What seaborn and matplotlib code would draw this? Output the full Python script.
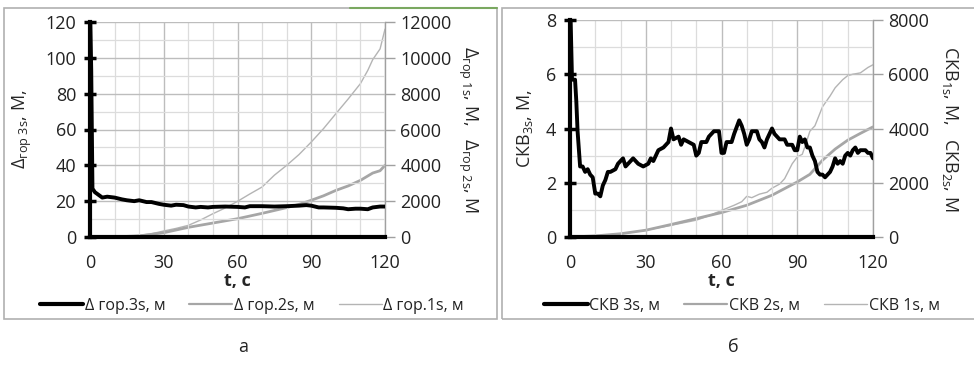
import matplotlib
matplotlib.use("Agg")
import matplotlib.pyplot as plt
import seaborn as sns
import pandas as pd
from matplotlib.ticker import MultipleLocator
from matplotlib.patches import Rectangle
from matplotlib.lines import Line2D

# ---------------- data ----------------
# Panel a: horizontal error
t_a3 = [0, 0.5, 1, 2, 3, 5, 7, 10, 13, 15, 18, 20, 23, 25, 28, 30, 33, 35, 38, 40, 43, 45, 48,
        50, 55, 60, 63, 65, 70, 75, 80, 85, 88, 90, 93, 95, 100, 103, 105, 108, 110, 113, 115, 118, 120]
v_a3 = [130, 93, 27, 25, 24, 22, 22.5, 22, 21, 20.5, 20, 20.5, 19.5, 19.5, 18.5, 18, 17.5, 18, 17.8, 17,
        16.5, 16.8, 16.5, 16.8, 17, 16.8, 16.5, 17.2, 17.2, 17, 17.2, 17.5, 17.8, 17.5, 16.5, 16.5, 16.3,
        16.0, 15.5, 15.8, 15.8, 15.5, 16.5, 17, 17]
t_a1 = [0, 10, 20, 25, 30, 35, 40, 45, 50, 55, 60, 65, 70, 75, 80, 85, 90, 95, 100, 105, 110, 113, 115, 118, 120]
v_a1 = [0, 20, 90, 180, 335, 480, 650, 950, 1300, 1620, 1990, 2400, 2790, 3450, 4000, 4600, 5300, 6050,
        6880, 7700, 8560, 9300, 9900, 10500, 11600]
t_a2 = [0, 10, 20, 30, 40, 50, 60, 70, 80, 85, 90, 95, 100, 105, 110, 115, 118, 120]
v_a2 = [0, 10, 60, 240, 540, 780, 1020, 1320, 1640, 1820, 2050, 2300, 2600, 2850, 3160, 3570, 3700, 4000]

# Panel b: RMS (СКВ)
t_b3 = [0, 0.8, 2, 2.5, 3, 4, 5, 6, 7, 8, 9, 10, 11, 12, 13, 14, 15, 16, 18, 19, 21, 22, 23, 25, 27, 29,
        31, 32, 33, 35, 37, 39, 40, 41, 43, 44, 45, 47, 49, 50, 51, 52, 54, 55, 57, 59, 60, 61, 62, 64,
        65, 67, 68, 69, 70, 71, 72, 74, 75, 76, 77, 78, 80, 81, 83, 85, 86, 88, 89, 90, 91, 92, 93, 94,
        95, 96, 97, 98, 99, 100, 101, 102, 103, 104, 105, 106, 107, 108, 109, 110, 111, 112, 113, 114,
        115, 116, 117, 118, 119, 120]
v_b3 = [9, 5.8, 5.8, 5.0, 3.9, 2.6, 2.6, 2.4, 2.5, 2.3, 2.2, 1.6, 1.6, 1.5, 1.9, 2.1, 2.4, 2.4, 2.5, 2.7,
        2.9, 2.6, 2.7, 2.9, 2.7, 2.6, 2.7, 2.9, 2.8, 3.2, 3.3, 3.5, 4.0, 3.6, 3.7, 3.4, 3.6, 3.5, 3.4,
        3.0, 3.1, 3.5, 3.5, 3.7, 3.9, 3.9, 3.1, 3.1, 3.5, 3.5, 3.8, 4.3, 4.1, 3.8, 3.4, 3.6, 3.9, 3.9,
        3.6, 3.5, 3.3, 3.6, 4.0, 3.8, 3.6, 3.6, 3.4, 3.4, 3.2, 3.2, 3.7, 3.5, 3.6, 3.3, 3.3, 3.0, 2.8,
        2.4, 2.3, 2.3, 2.2, 2.3, 2.4, 2.6, 2.9, 2.7, 2.8, 2.7, 3.0, 3.1, 3.0, 3.2, 3.3, 3.1, 3.2, 3.2,
        3.2, 3.1, 3.1, 2.9]
t_b1 = [0, 10, 20, 30, 40, 50, 55, 60, 65, 68, 70, 72, 75, 78, 80, 83, 85, 88, 90, 92, 93, 95, 97, 100,
        103, 105, 108, 110, 112, 115, 118, 120]
v_b1 = [0, 30, 120, 250, 430, 620, 780, 980, 1170, 1300, 1500, 1450, 1580, 1650, 1800, 1950, 2150, 2700,
        2950, 3050, 3320, 3900, 4100, 4800, 5200, 5500, 5800, 5950, 6000, 6050, 6250, 6350]
t_b2 = [0, 10, 20, 30, 40, 50, 60, 70, 80, 90, 95, 100, 105, 110, 115, 120]
v_b2 = [0, 40, 120, 250, 460, 680, 900, 1170, 1540, 2030, 2310, 2830, 3240, 3570, 3820, 4060]

legend_a = ["Δ гор.3s, м", "Δ гор.2s, м", "Δ гор.1s, м"]
legend_b = ["СКВ 3s, м", "СКВ 2s, м", "СКВ 1s, м"]
xticks = [0, 30, 60, 90, 120]

# ---------------- style ----------------
sns.set_style("white")
FONT = "Open Sans"
plt.rcParams["font.family"] = [FONT, "DejaVu Sans"]
plt.rcParams["mathtext.fontset"] = "custom"
plt.rcParams["mathtext.rm"] = FONT
plt.rcParams["mathtext.it"] = FONT + ":italic"
plt.rcParams["mathtext.bf"] = FONT + ":bold"
plt.rcParams["text.color"] = "#222222"

W, H = 974, 366
fig = plt.figure(figsize=(W / 100, H / 100), dpi=100)

def fx(px):
    return px / W

def fy(py):
    return 1 - py / H

C3, C2, C1 = "black", "#a6a6a6", "#b4b4b4"
GRID_MIN, GRID_MAJ = "#dcdcdc", "#bdbdbd"
TS = 13


def make_panel(l, r, t, b, ymax, ymaj, ymin, y2max, y2maj):
    ax = fig.add_axes([fx(l), fy(b), fx(r - l), fy(t) - fy(b)])
    ax.set_xlim(0, 120)
    ax.set_ylim(0, ymax)
    ax.xaxis.set_major_locator(MultipleLocator(30))
    ax.xaxis.set_minor_locator(MultipleLocator(10))
    ax.yaxis.set_major_locator(MultipleLocator(ymaj))
    ax.yaxis.set_minor_locator(MultipleLocator(ymin))
    ax.grid(which="minor", color=GRID_MIN, lw=0.9)
    ax.grid(which="major", color=GRID_MAJ, lw=1.0)
    ax.set_axisbelow(True)
    for s in ["top", "right"]:
        ax.spines[s].set_visible(False)
    for s in ["left", "bottom"]:
        ax.spines[s].set_color("black")
        ax.spines[s].set_linewidth(3)
        ax.spines[s].set_zorder(5)
    ax.tick_params(which="major", direction="inout", length=8, width=2.5, color="black",
                   labelsize=TS, labelcolor="#222222", pad=6)
    ax.tick_params(axis="x", which="major", pad=8)
    ax.tick_params(which="minor", length=0)
    ax2 = ax.twinx()
    ax2.set_ylim(0, y2max)
    ax2.yaxis.set_major_locator(MultipleLocator(y2maj))
    for s in ["top", "left", "bottom"]:
        ax2.spines[s].set_visible(False)
    ax2.spines["right"].set_color("#a0a0a0")
    ax2.spines["right"].set_linewidth(1.0)
    ax2.tick_params(axis="y", direction="out", length=7, width=1, color="#a0a0a0",
                    labelsize=TS, labelcolor="#222222", pad=4)
    ax2.grid(False)
    return ax, ax2


# ---------------- panel frames ----------------
fig.patches.append(Rectangle((fx(4), fy(319)), fx(497 - 4), fy(8) - fy(319), transform=fig.transFigure,
                             fill=False, ec="#b0b0b0", lw=1.2))
fig.patches.append(Rectangle((fx(502), fy(319)), fx(980 - 502), fy(8) - fy(319), transform=fig.transFigure,
                             fill=False, ec="#b0b0b0", lw=1.2))
fig.lines.append(Line2D([fx(350), fx(497)], [fy(8), fy(8)], transform=fig.transFigure,
                        color="#7aa860", lw=1.5))

# ---------------- panel a ----------------
axa, axa2 = make_panel(90, 385, 22, 237, 120, 20, 10, 12000, 2000)
da3 = pd.DataFrame({"t": t_a3, "v": v_a3})
da2 = pd.DataFrame({"t": t_a2, "v": v_a2})
da1 = pd.DataFrame({"t": t_a1, "v": v_a1})
sns.lineplot(data=da1, x="t", y="v", ax=axa2, color=C1, lw=1.0, zorder=2)
sns.lineplot(data=da2, x="t", y="v", ax=axa2, color=C2, lw=2.0, zorder=3)
axa.set_zorder(axa2.get_zorder() + 1)
axa.patch.set_visible(False)
sns.lineplot(data=da3, x="t", y="v", ax=axa, color=C3, lw=2.8, zorder=4)
axa.set_xticks(xticks)
axa.set_xlabel("t, c", fontsize=TS, fontweight="bold", labelpad=0)
axa.set_ylabel(r"$\Delta_{\mathrm{гор\ 3s}}$, М,", fontsize=TS, labelpad=8)
axa2.set_ylabel(r"$\Delta_{\mathrm{гор\ 1s}}$, М,   $\Delta_{\mathrm{гор\ 2s}}$, М",
                fontsize=TS, rotation=-90, labelpad=20)

# ---------------- panel b ----------------
axb, axb2 = make_panel(570, 873, 20, 237, 8, 2, 1, 8000, 2000)
db3 = pd.DataFrame({"t": t_b3, "v": v_b3})
db2 = pd.DataFrame({"t": t_b2, "v": v_b2})
db1 = pd.DataFrame({"t": t_b1, "v": v_b1})
sns.lineplot(data=db1, x="t", y="v", ax=axb2, color=C1, lw=1.0, zorder=2)
sns.lineplot(data=db2, x="t", y="v", ax=axb2, color=C2, lw=2.0, zorder=3)
axb.set_zorder(axb2.get_zorder() + 1)
axb.patch.set_visible(False)
sns.lineplot(data=db3, x="t", y="v", ax=axb, color=C3, lw=2.8, zorder=4)
axb.set_xticks(xticks)
axb.set_xlabel("t, c", fontsize=TS, fontweight="bold", labelpad=0)
axb.set_ylabel(r"СКВ$_{\mathrm{3s}}$, М,", fontsize=TS, labelpad=8)
axb2.set_ylabel(r"СКВ$_{\mathrm{1s}}$, М,   СКВ$_{\mathrm{2s}}$, М",
                fontsize=TS, rotation=-90, labelpad=22)

for ax in (axa, axa2, axb, axb2):
    ax.set_xlim(0, 120)

# ---------------- legends ----------------
def legend_at(labels, cx, cy):
    handles = [Line2D([], [], color=C3, lw=3),
               Line2D([], [], color=C2, lw=1.6),
               Line2D([], [], color=C1, lw=1.0)]
    fig.legend(handles, labels, loc="center", bbox_to_anchor=(fx(cx), fy(cy)), ncol=3, frameon=False,
               fontsize=11.5, handlelength=2.7, handletextpad=0.1, columnspacing=1.5,
               borderpad=0, borderaxespad=0)

legend_at(legend_a, 252, 306)
legend_at(legend_b, 742, 306)

fig.text(fx(243), fy(347), "а", ha="center", va="center", fontsize=13)
fig.text(fx(733), fy(347), "б", ha="center", va="center", fontsize=13)

fig.savefig("out.png", dpi=100)
